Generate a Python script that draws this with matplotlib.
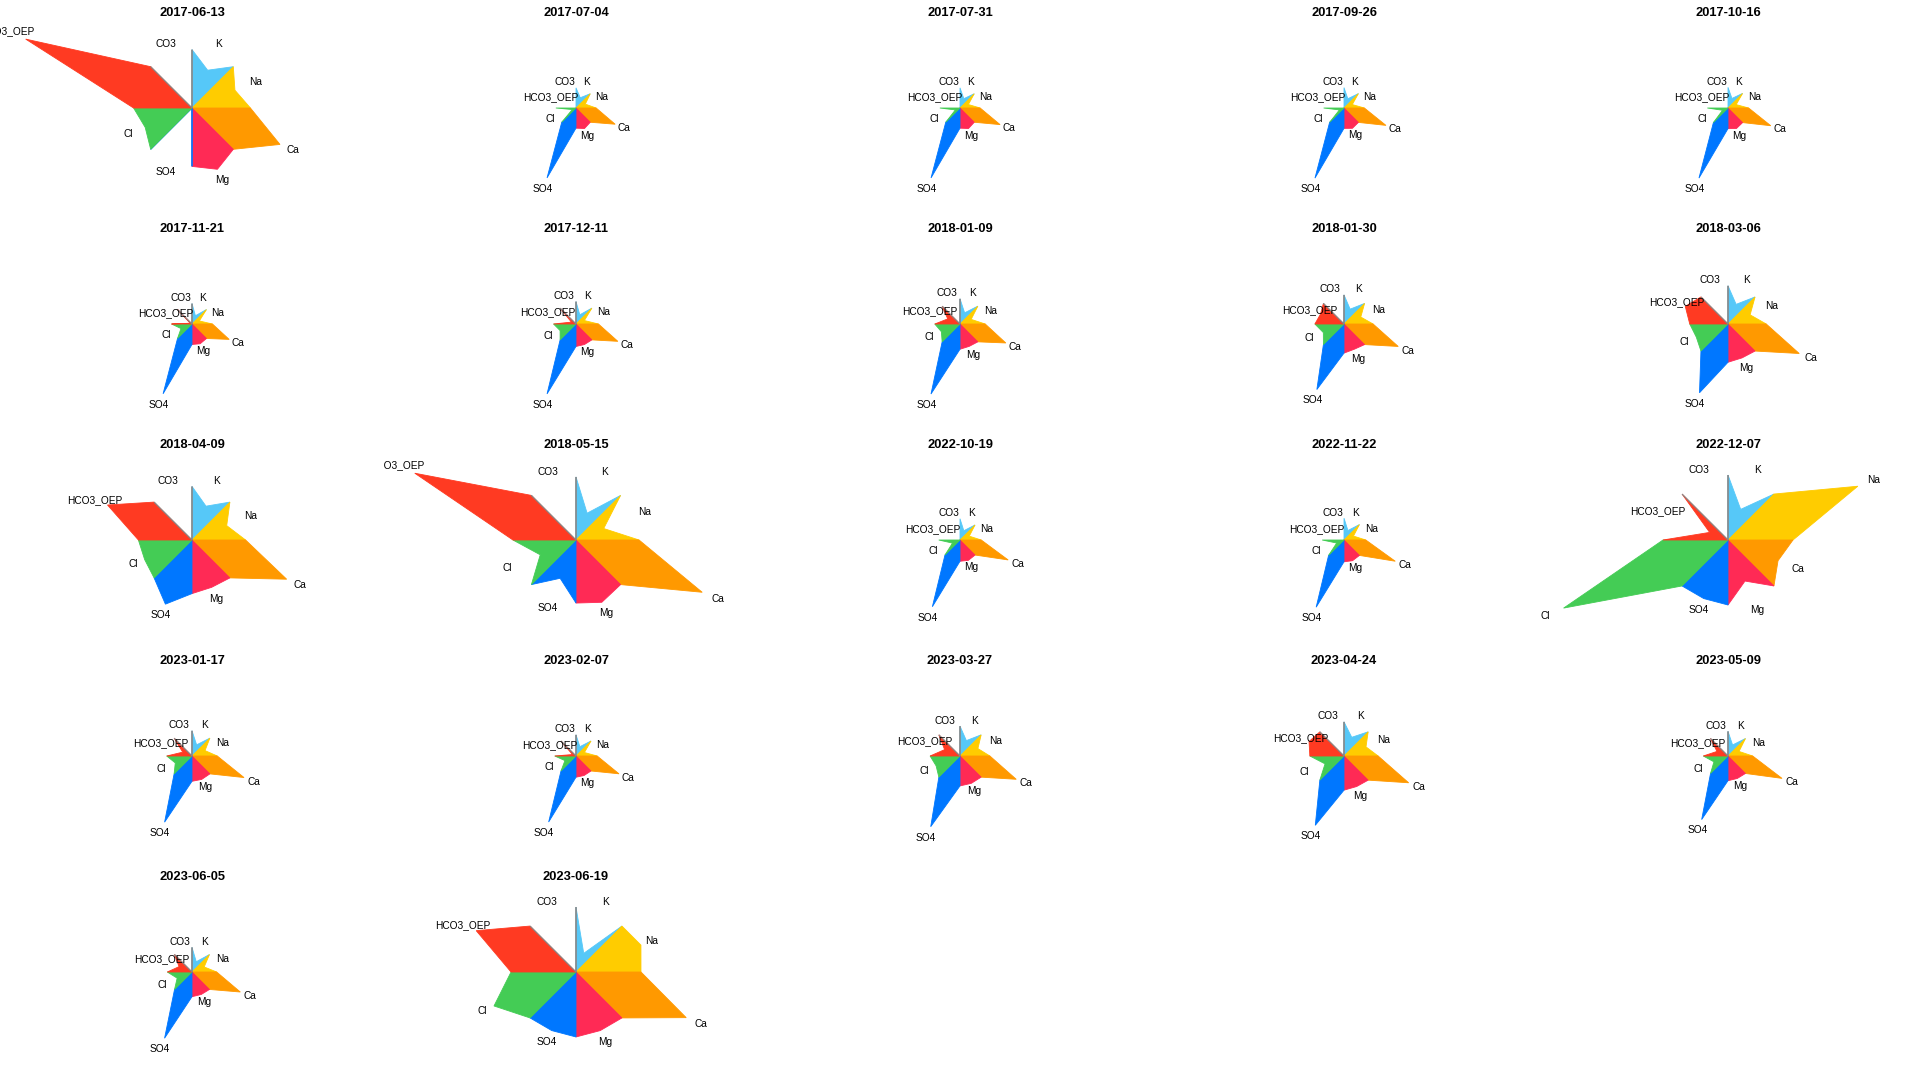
import numpy as np
import matplotlib
matplotlib.use('Agg')
import matplotlib.pyplot as plt
from matplotlib.patches import Polygon

# arial-like font first, dejavu as fallback
plt.rcParams['font.family'] = ['Liberation Sans', 'DejaVu Sans']

nan = np.nan

# sampling dates, one star per date
dates = ['2017-06-13', '2017-07-04', '2017-07-31', '2017-09-26', '2017-10-16',
         '2017-11-21', '2017-12-11', '2018-01-09', '2018-01-30', '2018-03-06',
         '2018-04-09', '2018-05-15', '2022-10-19', '2022-11-22', '2022-12-07',
         '2023-01-17', '2023-02-07', '2023-03-27', '2023-04-24', '2023-05-09',
         '2023-06-05', '2023-06-19']

ions = ['K', 'Na', 'Ca', 'Mg', 'SO4', 'Cl', 'HCO3_OEP', 'CO3']
colours = ['#56c8f8', '#ffcc00', '#ff9900', '#ff2a55',
           '#0077ff', '#44cc55', '#ff3a22', '#888888']

# ion amounts per date (nan = not measured)
K = [23.5, 2.2, 2.0, 2.0, 2.1, 1.8, 2.2, 3.0, 4.6, 8.0, 19.3,
     18.0, 2.1, 2.2, 21.2, 3.0, 2.1, 4.9, 6.8, 2.9, 2.7, 12.9]
Na = [26.7, 2.0, 1.8, 1.8, 1.8, 1.6, 2.0, 3.0, 5.2, 9.0, 19.8,
      18.6, 2.1, 2.2, 89.8, 3.5, 1.9, 5.7, 8.0, 2.9, 3.2, 44.9]
Ca = [54.7, 8.4, 8.6, 9.1, 9.4, 8.1, 10.0, 12.3, 16.8, 29.0, 54.0,
      84.7, 10.9, 11.9, 34.6, 14.0, 9.7, 17.9, 23.5, 14.2, 12.7, 76.2]
Mg = [38.1, 4.4, 4.4, 4.4, 4.5, 4.3, 4.9, 6.0, 7.8, 13.8, 27.0,
      41.8, 4.6, 4.8, 28.4, 6.3, 4.4, 8.7, 11.1, 5.9, 5.9, 40.5]
SO4 = [0.0, 15.0, 15.0, 15.2, 15.4, 15.2, 16.7, 18.8, 20.3, 28.0, 36.6,
       25.7, 15.1, 15.6, 40.5, 17.8, 14.9, 22.5, 25.2, 16.7, 17.4, 40.5]
Cl = [29.1, 0.8, 1.0, 1.0, 1.2, 2.4, 3.8, 5.0, 6.4, 12.9, 27.0,
      24.0, 1.7, 1.7, 113.7, 4.5, 2.5, 7.6, 6.9, 3.7, 3.9, 56.7]
HCO3 = [103.4, nan, nan, nan, nan, 0.4, 1.1, 3.3, 7.3, 17.4, 48.2,
        108.2, nan, nan, 12.7, 2.5, 0.8, 4.9, 12.7, 2.9, 3.4, 69.0]
CO3 = [0.0, nan, nan, nan, nan, 0.0, 0.0, 0.0, 0.0, 0.0, 0.0,
       0.0, nan, nan, 0.0, 0.0, 0.0, 0.0, 0.0, 0.0, 0.0, 0.0]

series = [K, Na, Ca, Mg, SO4, Cl, HCO3, CO3]

n_cols = 5
n_rows = 5
cell_w = 384
cell_h = 216
size_k = 3.52  # circle radius per sqrt(total)
half = np.pi / 8

fig = plt.figure(figsize=(19.2, 10.8), dpi=100)

for idx, date in enumerate(dates):
    row = idx // n_cols
    col = idx % n_cols
    ax = fig.add_axes([col / n_cols, 1 - (row + 1) / n_rows, 1 / n_cols, 1 / n_rows])
    ax.set_xlim(-cell_w / 2, cell_w / 2)
    ax.set_ylim(-cell_h / 2, cell_h / 2)
    ax.axis('off')

    vals = np.array([s[idx] for s in series], dtype=float)
    total = np.nansum(vals)
    # maucha diagram: circle area ~ total, each kite area ~ ion share
    R = size_k * np.sqrt(total)

    for i, ion in enumerate(ions):
        mid = np.deg2rad(67.5 - 45 * i)
        v = vals[i]
        tip = 0.0
        if not np.isnan(v):
            tip = np.pi * R * (v / total) / np.sin(half)
            pts = [(0, 0),
                   (R * np.cos(mid - half), R * np.sin(mid - half)),
                   (tip * np.cos(mid), tip * np.sin(mid)),
                   (R * np.cos(mid + half), R * np.sin(mid + half))]
            ax.add_patch(Polygon(pts, closed=True, facecolor=colours[i],
                                 edgecolor=colours[i], linewidth=0.6,
                                 clip_on=False))
        # label just outside the star, clipped to its own panel
        r_lab = 1.08 * max(R, tip) + 6
        ax.text(r_lab * np.cos(mid), r_lab * np.sin(mid), ion,
                ha='center', va='center', fontsize=7.3, clip_on=True)

    ax.text(0, cell_h / 2 - 13.5, date, ha='center', va='center',
            fontsize=9.3, fontweight='bold')

fig.savefig('out.png', dpi=100)
